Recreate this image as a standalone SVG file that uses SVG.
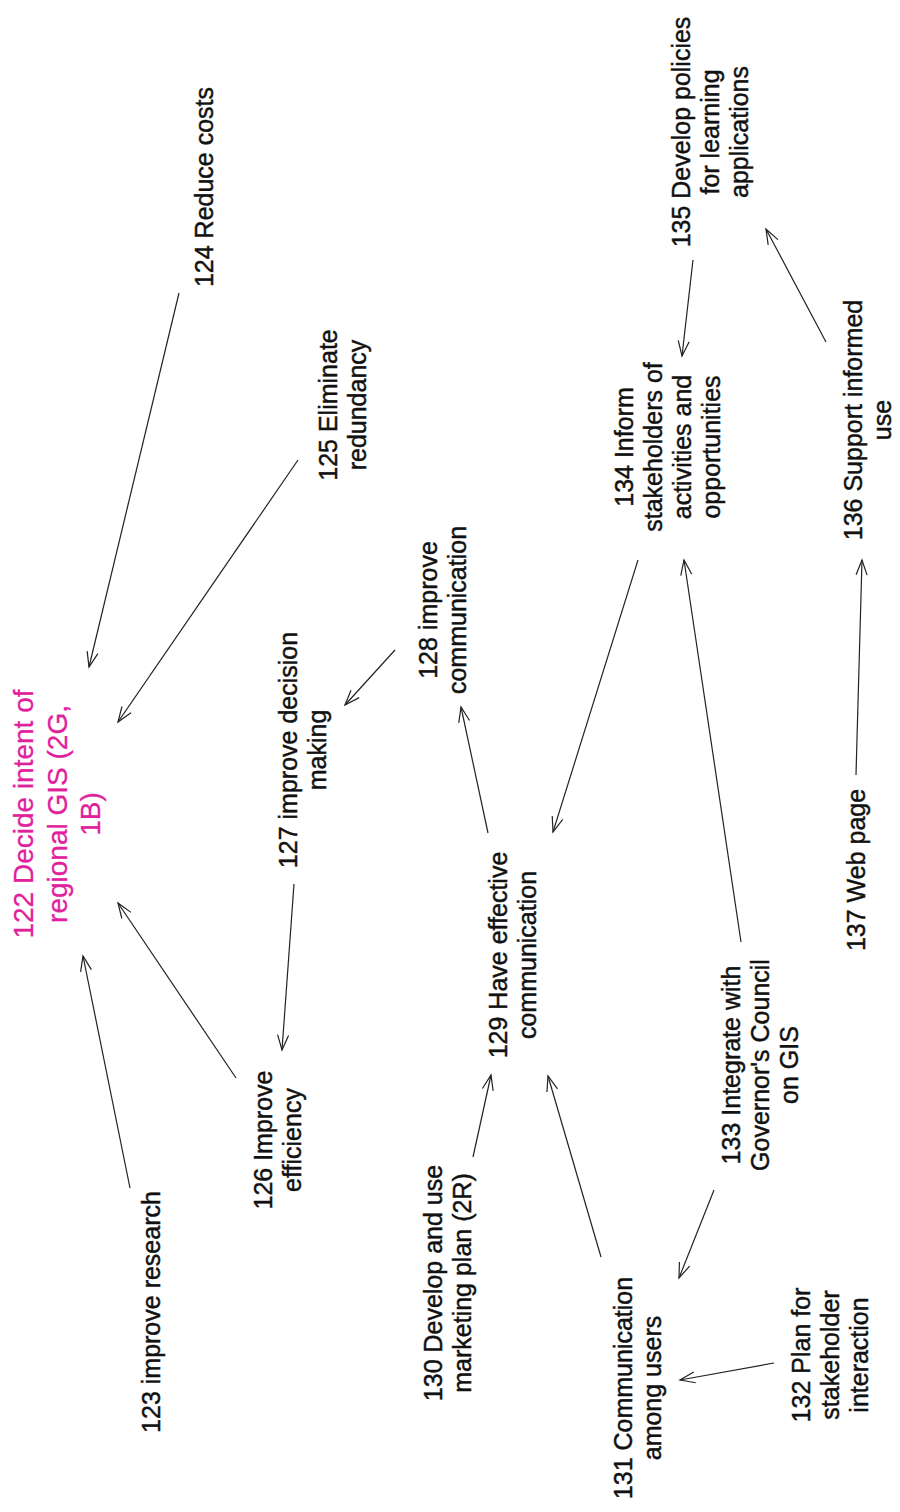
<svg xmlns="http://www.w3.org/2000/svg" width="900" height="1512" viewBox="0 0 900 1512">
<style>
  .t { font-family: "Liberation Sans", Arial, sans-serif; font-size: 25px; fill: #111; stroke: #111; stroke-width: 0.45; text-anchor: middle; }
  .m { font-family: "Liberation Sans", Arial, sans-serif; font-size: 28px; fill: #e0209c; stroke: #e0209c; stroke-width: 0.3; text-anchor: middle; }
  .c line { stroke: #222; stroke-width: 1.2; fill: none; marker-end: url(#ah); }
</style>
<defs>
  <marker id="ah" markerUnits="userSpaceOnUse" markerWidth="24" markerHeight="24" viewBox="-20 -10 24 20" refX="0" refY="0" orient="auto">
    <path d="M-15,-5.5 L0,0 L-15,5.5" fill="none" stroke="#222" stroke-width="1.2"/>
  </marker>
</defs>
<rect width="900" height="1512" fill="#fff"/>
<g id="n122"><text class="m" transform="translate(33,814) rotate(-90)"><tspan x="0" y="0">122 Decide intent of</tspan><tspan x="0" y="33.5">regional GIS (2G,</tspan><tspan x="0" y="67">1B)</tspan></text></g>
<g id="n123"><text class="t" transform="translate(160,1312) rotate(-90)"><tspan x="0" y="0">123 improve research</tspan></text></g>
<g id="n124"><text class="t" transform="translate(213,187) rotate(-90)"><tspan x="0" y="0">124 Reduce costs</tspan></text></g>
<g id="n125"><text class="t" transform="translate(337,405) rotate(-90)"><tspan x="0" y="0">125 Eliminate</tspan><tspan x="0" y="29">redundancy</tspan></text></g>
<g id="n126"><text class="t" transform="translate(272,1140) rotate(-90)"><tspan x="0" y="0">126 Improve</tspan><tspan x="0" y="29">efficiency</tspan></text></g>
<g id="n127"><text class="t" transform="translate(297,750) rotate(-90)"><tspan x="0" y="0">127 improve decision</tspan><tspan x="0" y="29">making</tspan></text></g>
<g id="n128"><text class="t" transform="translate(437,610) rotate(-90)"><tspan x="0" y="0">128 improve</tspan><tspan x="0" y="29">communication</tspan></text></g>
<g id="n129"><text class="t" transform="translate(507,955) rotate(-90)"><tspan x="0" y="0">129 Have effective</tspan><tspan x="0" y="29">communication</tspan></text></g>
<g id="n130"><text class="t" transform="translate(442,1283) rotate(-90)"><tspan x="0" y="0">130 Develop and use</tspan><tspan x="0" y="29">marketing plan (2R)</tspan></text></g>
<g id="n131"><text class="t" transform="translate(632,1388) rotate(-90)"><tspan x="0" y="0">131 Communication</tspan><tspan x="0" y="29">among users</tspan></text></g>
<g id="n132"><text class="t" transform="translate(810,1355) rotate(-90)"><tspan x="0" y="0">132 Plan for</tspan><tspan x="0" y="29">stakeholder</tspan><tspan x="0" y="58">interaction</tspan></text></g>
<g id="n133"><text class="t" transform="translate(740,1065) rotate(-90)"><tspan x="0" y="0">133 Integrate with</tspan><tspan x="0" y="29">Governor's Council</tspan><tspan x="0" y="58">on GIS</tspan></text></g>
<g id="n134"><text class="t" transform="translate(633,447) rotate(-90)"><tspan x="0" y="0">134 Inform</tspan><tspan x="0" y="29">stakeholders of</tspan><tspan x="0" y="58">activities and</tspan><tspan x="0" y="87">opportunities</tspan></text></g>
<g id="n135"><text class="t" transform="translate(690,132) rotate(-90)"><tspan x="0" y="0">135 Develop policies</tspan><tspan x="0" y="29">for learning</tspan><tspan x="0" y="58">applications</tspan></text></g>
<g id="n136"><text class="t" transform="translate(862,420) rotate(-90)"><tspan x="0" y="0">136 Support informed</tspan><tspan x="0" y="29">use</tspan></text></g>
<g id="n137"><text class="t" transform="translate(865,870) rotate(-90)"><tspan x="0" y="0">137 Web page</tspan></text></g>
<g id="connectors" class="c">
  <line x1="179" y1="293" x2="89" y2="667"/>
  <line x1="298" y1="460" x2="118" y2="722"/>
  <line x1="130" y1="1188" x2="83" y2="956"/>
  <line x1="236" y1="1078" x2="118" y2="903"/>
  <line x1="294" y1="884" x2="282" y2="1050"/>
  <line x1="395" y1="650" x2="345" y2="705"/>
  <line x1="488" y1="833" x2="461" y2="707"/>
  <line x1="473" y1="1157" x2="491" y2="1075"/>
  <line x1="601" y1="1257" x2="548" y2="1076"/>
  <line x1="638" y1="560" x2="553" y2="832"/>
  <line x1="741" y1="942" x2="684" y2="560"/>
  <line x1="714" y1="1190" x2="679" y2="1278"/>
  <line x1="774" y1="1363" x2="680" y2="1380"/>
  <line x1="693" y1="260" x2="682" y2="356"/>
  <line x1="826" y1="342" x2="766" y2="229"/>
  <line x1="856" y1="775" x2="862" y2="560"/>
</g>
</svg>
